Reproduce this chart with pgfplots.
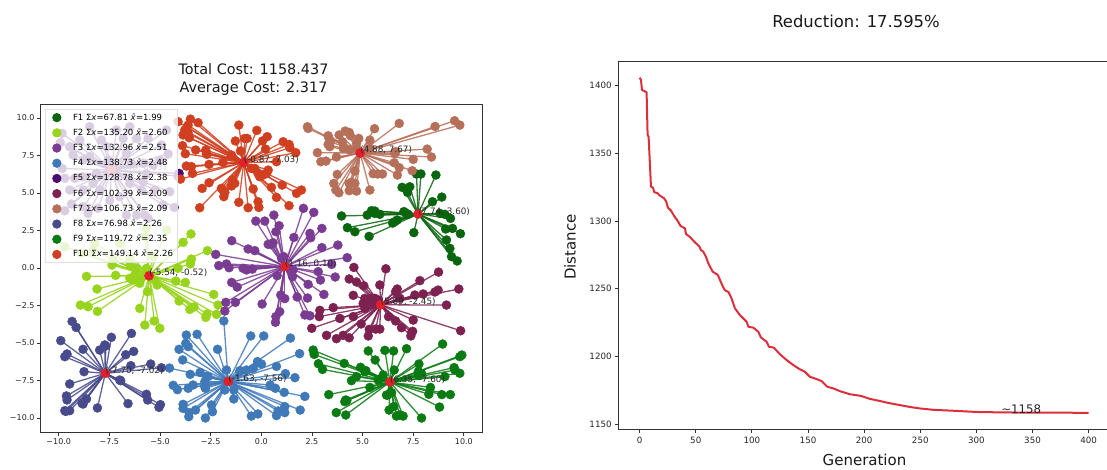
\documentclass[border=0pt]{standalone}
\usepackage{pgfplots}
\usepackage{pgfplotstable}
\usepackage{fontspec}
\pgfplotsset{compat=1.18}
\setmainfont{DejaVu Sans}
\definecolor{cFa}{HTML}{0A650F}
\definecolor{cFb}{HTML}{97D41B}
\definecolor{cFc}{HTML}{7A3B92}
\definecolor{cFd}{HTML}{4079B8}
\definecolor{cFe}{HTML}{4A0A70}
\definecolor{cFf}{HTML}{7C2150}
\definecolor{cFg}{HTML}{B66F59}
\definecolor{cFh}{HTML}{474A8B}
\definecolor{cFi}{HTML}{0A7A12}
\definecolor{cFj}{HTML}{CF3F20}
\definecolor{cCentre}{HTML}{E0202A}
\definecolor{cCurve}{HTML}{DC2F3C}
\definecolor{cAxis}{HTML}{333333}
\newcommand{\px}[1]{\fontsize{#1}{#1}\selectfont}
\newcommand{\xv}{\textit{x}}
\newcommand{\xb}{\textit{x\char"0304}}

\pgfplotstableread[row sep=\\]{x y\\
3.96 3.47\\5.23 3.53\\5.44 3.82\\5.60 3.80\\5.85 3.58\\7.04 3.76\\7.25 3.58\\4.25 2.69\\4.62 2.42\\5.32 2.11\\6.48 3.00\\6.71 3.20\\7.53 2.36\\7.66 6.27\\7.88 6.27\\8.62 6.20\\6.95 5.38\\7.33 5.42\\7.22 5.04\\8.45 4.42\\8.91 4.73\\9.06 3.58\\9.34 3.31\\9.10 2.60\\9.44 2.64\\9.83 2.29\\9.14 1.87\\9.31 1.31\\9.39 0.76\\9.67 0.47\\7.17 3.64\\6.59 3.09\\5.60 3.64\\8.82 3.64\\
}\tFa
\pgfplotstableread[row sep=\\]{x y\\
-4.68 2.53\\-5.67 2.64\\-5.75 2.09\\-6.99 1.64\\-8.22 1.64\\-9.70 1.42\\-8.30 1.20\\-8.88 0.98\\-7.31 0.53\\-6.49 0.64\\-5.34 0.76\\-3.47 2.27\\-3.86 1.71\\-2.66 1.16\\-3.45 0.60\\-3.50 0.27\\-4.11 -0.02\\-4.22 -0.87\\-3.75 -0.96\\-5.14 -1.13\\-8.63 -0.56\\-7.19 -0.49\\-6.49 -0.69\\-6.33 -0.80\\-6.00 -1.02\\-8.11 -1.40\\-5.62 -1.58\\-8.93 -2.47\\-8.55 -2.58\\-8.09 -2.89\\-6.00 -2.69\\-5.75 -3.80\\-5.29 -3.53\\-5.01 -4.02\\-4.06 -2.20\\-3.53 -2.76\\-3.32 -2.60\\-2.35 -1.76\\-2.13 -2.47\\-2.21 -3.09\\-2.68 -3.07\\-2.74 -3.29\\-7.37 0.20\\-6.49 0.20\\-6.08 -0.80\\-6.25 -0.47\\-5.92 -0.69\\-5.26 -0.80\\-6.17 -0.02\\-5.67 -0.02\\
}\tFb
\pgfplotstableread[row sep=\\]{x y\\
0.62 3.53\\2.08 3.98\\2.59 3.71\\-0.27 3.13\\0.17 3.13\\0.88 2.82\\0.72 2.42\\1.61 2.04\\2.99 2.64\\2.40 2.31\\2.44 2.02\\-1.46 1.82\\-0.65 1.27\\-0.32 1.16\\0.34 1.58\\0.58 1.69\\3.78 1.53\\2.99 1.36\\-2.25 0.91\\1.11 0.76\\-1.72 0.27\\-2.10 0.16\\-1.59 0.02\\-0.73 -0.13\\-0.44 -0.07\\4.24 0.69\\2.81 -0.24\\3.65 -0.60\\2.92 -0.80\\0.78 -0.51\\1.54 -0.58\\-1.46 -0.96\\-1.19 -1.27\\2.31 -1.09\\3.09 -1.76\\0.96 -1.80\\1.16 -2.04\\1.77 -1.93\\2.28 -2.00\\-1.28 -2.29\\-1.75 -2.29\\-1.80 -2.87\\0.04 -2.40\\0.91 -2.91\\0.72 -3.24\\0.70 -3.62\\2.15 -3.13\\2.40 -3.18\\3.47 0.24\\1.57 -0.13\\-0.90 -0.02\\0.50 1.58\\1.00 0.64\\
}\tFc
\pgfplotstableread[row sep=\\]{x y\\
-1.85 -3.53\\-3.70 -4.47\\-3.17 -4.42\\-3.73 -5.02\\-3.61 -5.24\\-4.06 -5.42\\-2.16 -5.42\\-0.52 -4.53\\0.12 -4.53\\1.44 -4.67\\1.89 -5.71\\-3.88 -6.13\\-4.53 -6.67\\-3.51 -7.09\\-3.02 -6.96\\-1.72 -6.80\\-2.71 -7.24\\-1.05 -6.84\\-0.73 -6.80\\-0.40 -6.69\\-0.19 -6.24\\0.01 -6.40\\0.75 -6.56\\1.19 -7.04\\1.66 -7.31\\-4.35 -7.82\\-4.14 -8.11\\-3.61 -8.02\\-3.37 -7.80\\-2.79 -7.58\\-2.76 -8.02\\-1.80 -8.13\\-1.36 -8.73\\-1.36 -8.13\\0.44 -7.80\\0.70 -8.02\\1.13 -8.29\\2.15 -8.56\\-3.86 -9.09\\-3.86 -9.36\\-3.25 -9.47\\-3.56 -9.64\\-3.58 -9.91\\-2.76 -10.00\\-2.46 -9.13\\-2.41 -9.58\\-0.49 -9.87\\-0.17 -9.73\\0.75 -9.84\\1.16 -9.24\\1.16 -9.64\\0.83 -9.53\\1.92 -9.47\\-2.63 -7.24\\-2.79 -7.91\\-1.06 -6.91\\
}\tFd
\pgfplotstableread[row sep=\\]{x y\\
-9.83 8.98\\-9.92 8.36\\-8.47 9.42\\-7.89 8.53\\-6.82 8.64\\-6.16 8.64\\-5.59 8.64\\-4.93 8.20\\-4.60 7.60\\-9.29 7.53\\-8.80 7.20\\-9.83 6.64\\-9.70 5.98\\-9.21 5.98\\-8.80 6.09\\-8.14 6.31\\-5.83 6.98\\-5.34 6.87\\-5.67 6.27\\-5.01 7.20\\-5.83 5.76\\-5.92 5.20\\-5.26 5.20\\-4.52 5.09\\-4.30 4.04\\-4.85 4.20\\-9.70 3.82\\-9.37 4.27\\-8.80 4.09\\-8.55 3.64\\-8.06 3.98\\-6.66 3.53\\-6.16 3.53\\-5.75 3.53\\-5.59 3.31\\-7.15 9.20\\-7.64 8.09\\-8.47 7.42\\-6.66 7.64\\-6.49 5.64\\-6.99 4.76\\-7.48 4.53\\-7.97 5.20\\-8.30 5.64\\-4.06 6.31\\-4.11 6.13\\-8.96 8.53\\-9.46 8.09\\-6.41 6.98\\-4.68 9.20\\-6.49 9.42\\-8.80 5.20\\-9.46 5.20\\-7.56 7.20\\
}\tFe
\pgfplotstableread[row sep=\\]{x y\\
6.15 -0.05\\8.75 -0.27\\4.57 0.04\\4.34 -0.73\\4.70 -0.93\\5.06 -1.18\\5.85 -1.13\\7.83 -0.84\\8.73 -1.47\\8.57 -1.60\\9.75 -1.40\\6.71 -1.40\\6.63 -1.58\\4.54 -1.82\\7.58 -1.80\\7.99 -1.73\\9.14 -2.47\\5.11 -2.02\\5.03 -2.36\\5.11 -2.69\\5.44 -2.02\\3.55 -2.64\\2.89 -2.82\\2.86 -3.24\\3.88 -3.36\\4.54 -3.24\\4.93 -3.73\\2.49 -4.02\\3.22 -4.49\\3.71 -4.71\\4.04 -4.49\\4.34 -4.65\\5.28 -4.53\\5.33 -4.09\\5.65 -4.07\\5.85 -4.07\\6.28 -3.24\\6.63 -3.53\\7.50 -3.47\\6.92 -3.98\\7.47 -4.22\\7.38 -4.53\\9.84 -4.18\\6.84 -2.02\\5.52 -2.36\\5.77 -2.13\\5.19 -2.24\\7.42 -4.31\\5.60 -2.02\\
}\tFf
\pgfplotstableread[row sep=\\]{x y\\
2.28 9.42\\2.31 9.31\\6.81 9.64\\5.59 9.29\\9.54 9.82\\9.80 9.53\\8.58 9.44\\3.84 8.87\\4.14 9.13\\4.34 9.04\\4.40 8.82\\3.30 8.82\\3.35 8.64\\3.42 8.42\\3.30 8.24\\3.38 8.09\\4.81 8.64\\4.70 8.31\\5.36 8.53\\4.04 7.98\\4.37 7.87\\4.70 8.02\\2.77 7.69\\2.94 7.09\\3.19 7.13\\3.71 7.40\\8.19 7.93\\7.50 7.24\\8.40 7.40\\6.64 7.76\\6.56 7.02\\6.81 6.69\\7.45 6.49\\6.72 6.20\\5.52 6.29\\5.74 6.27\\5.98 6.27\\4.62 6.47\\3.75 6.24\\3.58 5.64\\3.68 5.20\\3.83 5.02\\4.34 5.64\\4.62 5.64\\4.34 5.16\\4.70 5.13\\5.36 5.20\\4.45 5.71\\6.59 7.64\\5.36 7.98\\4.01 8.42\\
}\tFg
\pgfplotstableread[row sep=\\]{x y\\
-9.34 -3.56\\-9.14 -3.96\\-9.90 -4.84\\-7.40 -4.62\\-6.41 -4.36\\-7.73 -5.13\\-7.98 -5.47\\-8.80 -5.42\\-6.30 -5.56\\-6.69 -5.78\\-9.59 -5.73\\-9.70 -5.91\\-6.44 -6.51\\-8.75 -6.91\\-5.46 -6.40\\-4.93 -6.65\\-6.99 -7.47\\-9.46 -7.73\\-9.62 -8.53\\-9.59 -8.80\\-8.63 -8.73\\-8.85 -9.02\\-8.09 -9.33\\-6.58 -9.04\\-5.67 -8.42\\-5.61 -8.80\\-4.98 -9.11\\-5.05 -9.29\\-9.70 -9.51\\-9.46 -9.51\\-9.65 -9.56\\-6.94 -7.51\\-7.68 -5.20\\-8.80 -9.07\\
}\tFh
\pgfplotstableread[row sep=\\]{x y\\
2.56 -5.47\\2.61 -5.76\\2.82 -6.38\\3.02 -6.76\\4.09 -6.36\\4.90 -6.62\\5.16 -6.84\\4.70 -7.24\\4.45 -7.51\\5.28 -5.53\\5.62 -6.13\\6.10 -5.49\\6.53 -5.53\\7.17 -5.38\\8.95 -5.07\\9.80 -5.91\\9.90 -5.80\\7.78 -6.40\\7.75 -6.91\\9.52 -6.64\\9.80 -7.02\\9.06 -7.24\\6.56 -6.80\\6.02 -7.13\\5.36 -7.96\\3.33 -8.44\\4.17 -8.80\\4.22 -8.84\\3.70 -9.64\\4.17 -9.80\\6.18 -8.47\\6.43 -8.31\\8.35 -7.96\\8.27 -8.42\\8.91 -8.44\\9.33 -8.44\\8.80 -9.27\\6.31 -9.47\\6.54 -9.24\\6.67 -9.87\\7.00 -9.87\\7.91 -10.00\\5.77 -7.47\\5.93 -7.36\\6.23 -8.47\\5.11 -6.91\\7.91 -7.02\\4.12 -8.91\\7.75 -7.13\\9.56 -6.80\\6.84 -9.80\\
}\tFi
\pgfplotstableread[row sep=\\]{x y\\
-4.11 9.76\\-3.50 9.93\\-3.12 9.69\\-3.66 9.42\\-3.78 9.20\\-3.86 8.87\\-3.56 8.69\\-3.89 8.16\\-3.75 7.62\\-3.24 7.87\\-2.74 7.87\\-2.68 7.58\\-3.70 6.80\\-3.45 6.76\\-3.40 6.31\\-3.99 5.93\\-2.58 6.91\\-1.89 7.04\\-2.58 5.69\\-2.92 5.31\\-1.89 5.20\\-1.85 4.76\\-1.47 5.47\\-1.42 5.87\\-1.11 4.38\\-3.04 4.02\\-0.65 4.02\\-0.16 4.42\\-0.12 4.04\\-0.40 5.27\\0.50 5.38\\0.75 4.71\\1.03 5.53\\1.37 4.16\\1.74 4.98\\1.98 5.20\\-1.11 9.53\\-0.22 9.18\\-1.28 8.47\\-0.82 8.64\\-0.70 8.64\\-1.03 7.80\\-1.47 7.53\\0.29 8.76\\0.06 8.47\\0.21 7.93\\1.08 8.42\\1.37 8.24\\1.41 8.02\\1.70 7.69\\0.75 7.09\\0.34 6.53\\0.26 6.31\\-0.16 6.31\\-0.32 6.64\\-0.08 6.09\\-1.47 7.42\\-0.49 6.64\\-3.61 9.53\\-3.61 8.98\\-2.71 7.64\\-1.80 5.04\\-1.97 5.31\\0.09 6.20\\-1.31 5.64\\
}\tFj
\pgfplotstableread[row sep=\\]{x y\\
7.74 3.60\\-5.54 -0.52\\1.16 0.10\\-1.63 -7.56\\-7.40 6.53\\5.89 -2.45\\4.88 7.67\\-7.70 -7.02\\6.35 -7.60\\-0.87 7.03\\
}\tCentres
\pgfplotstableread[row sep=\\]{g d\\
0 1405.9\\1.2 1404.2\\2.1 1396.8\\3.9 1396.1\\6.2 1395.1\\7.1 1363.6\\8 1362.3\\10.1 1325.4\\11.9 1324.6\\13.1 1321.2\\15.7 1320.7\\18.1 1318.7\\21.7 1316.8\\23.5 1314.8\\25.2 1309.9\\27.9 1307.7\\30.9 1303.5\\33.6 1300.5\\36.5 1296.3\\40.4 1294.6\\41.3 1290.4\\44.8 1288.2\\49.3 1284.2\\53.2 1281.2\\54.6 1278.6\\56.7 1277.3\\59.1 1273.6\\61.2 1268.7\\62.7 1266.3\\65 1262.6\\69.7 1260.1\\73.5 1252.7\\76 1248.8\\79.2 1247.5\\81.9 1242.8\\84.9 1235.5\\89.3 1230.5\\95.3 1225.6\\96.8 1221.9\\101.2 1221.2\\105.7 1218.2\\108 1214\\113.1 1210.8\\115.2 1207.1\\119.6 1206.4\\125 1201.5\\130.9 1197.3\\136.8 1193.6\\142.8 1190.4\\147.2 1188.6\\151.7 1184.9\\157.6 1183.2\\162.1 1181.7\\167 1177.6\\172.5 1176.3\\178.4 1174.3\\187.3 1172\\197 1170.8\\205.1 1168.6\\214 1167\\222 1165.5\\231 1164.1\\240.8 1162.6\\249.7 1161.5\\261.6 1160.5\\279.4 1159.8\\300.2 1158.9\\321 1158.6\\344.7 1158.4\\400 1158.3\\
}\tCurve

\newcommand{\cluster}[4]{%
  \addplot[#4,draw opacity=.85,line width=1.3pt,forget plot,
    quiver={u=#2-\thisrow{x},v=#3-\thisrow{y}}] table[x=x,y=y]{#1};
  \addplot[only marks,mark=*,mark size=4.5pt,#4,mark options={draw=#4,fill=#4},forget plot] table[x=x,y=y]{#1};
}
\newcommand{\lab}[3]{\node[anchor=base west,inner sep=0pt,font=\px{8.8},text=black!85] at (axis cs:#1,#2) {#3};}
\newcommand{\leg}[2]{\addlegendimage{only marks,mark=*,mark size=4.2pt,#1,mark options={draw=#1,fill=#1,draw opacity=1,fill opacity=1}}\addlegendentry{\hspace{10pt}\makebox[95pt][l]{#2}}}

\begin{document}
\begin{tikzpicture}
\clip (0pt,0pt) rectangle (1107pt,469pt);
\fill[white] (0pt,0pt) rectangle (1107pt,469pt);
\begin{axis}[
  at={(40.7pt,36.3pt)},anchor=south west,scale only axis,width=441.6pt,height=327.7pt,
  xmin=-10.89,xmax=10.91,ymin=-10.98,ymax=10.87,
  xtick={-10,-7.5,-5,-2.5,0,2.5,5,7.5,10},
  xticklabels={−10.0,−7.5,−5.0,−2.5,0.0,2.5,5.0,7.5,10.0},
  ytick={-10,-7.5,-5,-2.5,0,2.5,5,7.5,10},
  yticklabels={−10.0,−7.5,−5.0,−2.5,0.0,2.5,5.0,7.5,10.0},
  tick align=outside,tick pos=left,major tick length=3.5pt,
  axis line style={cAxis,line width=1pt},tick style={cAxis,line width=.8pt},
  tick label style={font=\px{8},text=black!85,inner sep=1pt},
  xticklabel style={yshift=-1.5pt},yticklabel style={xshift=-1.5pt},
  legend cell align=left,
  legend style={at={(axis cs:-10.69,10.6)},anchor=north west,
    font=\px{8.5},fill=white,fill opacity=.8,draw opacity=.8,text opacity=1,draw=black!15,
    line width=.8pt,inner xsep=7.5pt,inner ysep=4pt,
    row sep=6.8pt,
    nodes={inner xsep=2pt,inner ysep=0pt,text height=6.6pt,text depth=1.6pt}},
  after end axis/.code={
    \lab{7.74}{3.60}{(7.74, 3.60)}
    \lab{-5.54}{-0.52}{(-5.54, -0.52)}
    \lab{1.16}{0.10}{(1.16, 0.10)}
    \lab{-1.63}{-7.56}{(-1.63, -7.56)}
    \lab{5.89}{-2.45}{(5.89, -2.45)}
    \lab{4.88}{7.67}{(4.88, 7.67)}
    \lab{-7.70}{-7.02}{(-7.70, -7.02)}
    \lab{6.35}{-7.60}{(6.35, -7.60)}
    \lab{-0.87}{7.03}{(-0.87, 7.03)}
  },
]
\cluster{\tFa}{7.74}{3.60}{cFa}
\cluster{\tFb}{-5.54}{-0.52}{cFb}
\cluster{\tFc}{1.16}{0.10}{cFc}
\cluster{\tFd}{-1.63}{-7.56}{cFd}
\cluster{\tFe}{-7.40}{6.53}{cFe}
\cluster{\tFf}{5.89}{-2.45}{cFf}
\cluster{\tFg}{4.88}{7.67}{cFg}
\cluster{\tFh}{-7.70}{-7.02}{cFh}
\cluster{\tFi}{6.35}{-7.60}{cFi}
\cluster{\tFj}{-0.87}{7.03}{cFj}
\addplot[only marks,mark=*,mark size=4.6pt,cCentre,mark options={draw=cCentre,fill=cCentre},forget plot] table[x=x,y=y]{\tCentres};
\lab{-7.40}{6.53}{(-7.40, 6.53)}
\leg{cFa}{F1 Σ\xv=67.81 \xb=1.99}
\leg{cFb}{F2 Σ\xv=135.20 \xb=2.60}
\leg{cFc}{F3 Σ\xv=132.96 \xb=2.51}
\leg{cFd}{F4 Σ\xv=138.73 \xb=2.48}
\leg{cFe}{F5 Σ\xv=128.78 \xb=2.38}
\leg{cFf}{F6 Σ\xv=102.39 \xb=2.09}
\leg{cFg}{F7 Σ\xv=106.73 \xb=2.09}
\leg{cFh}{F8 Σ\xv=76.98 \xb=2.26}
\leg{cFi}{F9 Σ\xv=119.72 \xb=2.35}
\leg{cFj}{F10 Σ\xv=149.14 \xb=2.26}
\end{axis}
\begin{axis}[
  at={(618.3pt,39.3pt)},anchor=south west,scale only axis,width=492.8pt,height=368pt,
  xmin=-19,xmax=420,ymin=1145.8,ymax=1417.7,
  xtick={0,50,...,400},xticklabels={0,50,100,150,200,250,300,350,400},
  ytick={1150,1200,1250,1300,1350,1400},yticklabels={1150,1200,1250,1300,1350,1400},
  tick align=outside,tick pos=left,major tick length=3.5pt,
  axis line style={cAxis,line width=1pt},tick style={cAxis,line width=.8pt},
  tick label style={font=\px{8.7},text=black!85,inner sep=1pt},
  xticklabel style={yshift=-2.5pt},yticklabel style={xshift=-2pt},
]
\addplot[cCurve,line width=2pt,line join=round,forget plot] table[x=g,y=d]{\tCurve};
\node[anchor=base west,inner sep=0pt,font=\px{11.8},text=black!85] at (axis cs:322,1158) {\char"007E 1158};
\end{axis}
\node[font=\px{14.4},text=black!90,align=center,inner sep=0pt,anchor=center] at (253.5pt,389.5pt) {Total Cost: 1158.437\\[3.6pt]Average Cost: 2.317};
\node[font=\px{16.4},text=black!90,inner sep=0pt,anchor=base] at (856pt,441pt) {Reduction: 17.595\%};
\node[font=\px{15},text=black!90,inner sep=0pt,anchor=base] at (864.5pt,3.5pt) {Generation};
\node[font=\px{15},text=black!90,inner sep=0pt,anchor=base,rotate=90] at (575.5pt,222pt) {Distance};
\end{tikzpicture}
\end{document}
